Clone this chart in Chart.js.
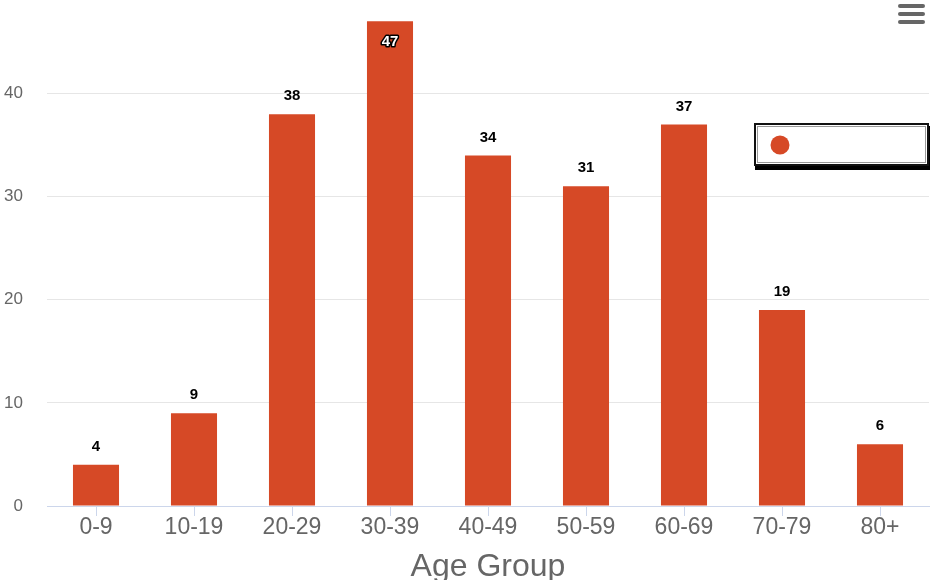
<!DOCTYPE html>
<html lang="en">
<head>
    <meta charset="UTF-8">
    <title>Age Group</title>
    <script src="https://cdn.jsdelivr.net/npm/chart.js"></script>
    <style>
        html, body { margin: 0; padding: 0; background: #fff; }
        #wrap { width: 932px; height: 580px; position: relative; }
    </style>
</head>
<body>
    <div id="wrap"><canvas id="ageChart"></canvas></div>

    <script>
        // data
        const ageGroups = ['0-9', '10-19', '20-29', '30-39', '40-49', '50-59', '60-69', '70-79', '80+'];
        const counts = [4, 9, 38, 47, 34, 31, 37, 19, 6];
        const yTicks = [0, 10, 20, 30, 40];

        const barColor = '#d64926';
        const fontFam = '"Liberation Sans", Arial, Helvetica, sans-serif';

        // value labels above bars (inside if no room)
        const valueLabels = {
            id: 'valueLabels',
            afterDatasetsDraw(chart) {
                const ctx = chart.ctx;
                const meta = chart.getDatasetMeta(0);
                ctx.save();
                ctx.font = 'bold 15px ' + fontFam;
                ctx.textAlign = 'center';
                ctx.textBaseline = 'middle';
                meta.data.forEach((bar, i) => {
                    const txt = String(counts[i]);
                    let y = bar.y - 18;
                    if (y < chart.chartArea.top + 8) {
                        y = bar.y + 20;
                        ctx.lineWidth = 3;
                        ctx.strokeStyle = '#000';
                        ctx.lineJoin = 'round';
                        ctx.strokeText(txt, bar.x, y);
                        ctx.fillStyle = '#fff';
                        ctx.fillText(txt, bar.x, y);
                    } else {
                        ctx.fillStyle = '#000';
                        ctx.fillText(txt, bar.x, y);
                    }
                });
                ctx.restore();
            }
        };

        // legend box with empty label + menu icon
        const extras = {
            id: 'extras',
            afterDraw(chart) {
                const ctx = chart.ctx;
                ctx.save();
                // shadow
                ctx.fillStyle = '#000';
                ctx.fillRect(755, 126, 175, 44);
                // box
                ctx.fillStyle = '#fff';
                ctx.fillRect(755, 124, 173, 41);
                ctx.lineWidth = 2;
                ctx.strokeStyle = '#111';
                ctx.strokeRect(755, 124, 173, 41);
                ctx.strokeStyle = '#999';
                ctx.lineWidth = 1;
                ctx.strokeRect(757.5, 126.5, 168, 36);
                ctx.fillStyle = barColor;
                ctx.beginPath();
                ctx.arc(780, 145, 9.5, 0, Math.PI * 2);
                ctx.fill();
                // menu
                ctx.strokeStyle = '#666';
                ctx.lineWidth = 4;
                ctx.lineCap = 'round';
                [6, 14, 22].forEach(y => {
                    ctx.beginPath();
                    ctx.moveTo(900, y);
                    ctx.lineTo(923, y);
                    ctx.stroke();
                });
                ctx.restore();
            }
        };

        const ctx = document.getElementById('ageChart').getContext('2d');
        const ageChart = new Chart(ctx, {
            type: 'bar',
            data: {
                labels: ageGroups,
                datasets: [{
                    label: '',
                    data: counts,
                    backgroundColor: barColor,
                    borderWidth: 0,
                    categoryPercentage: 1,
                    barPercentage: 0.47
                }]
            },
            options: {
                responsive: true,
                maintainAspectRatio: false,
                animation: false,
                layout: { padding: { top: 9, right: 3, left: 0, bottom: 0 } },
                plugins: {
                    legend: { display: false },
                    tooltip: { enabled: false }
                },
                scales: {
                    x: {
                        afterFit(axis) { axis.height = 74; },
                        grid: {
                            offset: false,
                            drawOnChartArea: false,
                            drawTicks: true,
                            tickLength: 10,
                            color: '#ccd6eb'
                        },
                        border: { color: '#ccd6eb' },
                        ticks: {
                            color: '#666',
                            font: { family: fontFam, size: 23 },
                            padding: -2,
                            maxRotation: 0
                        },
                        title: {
                            display: true,
                            text: 'Age Group',
                            color: '#666',
                            font: { family: fontFam, size: 32, lineHeight: 1 },
                            padding: { top: 8, bottom: -3 }
                        }
                    },
                    y: {
                        min: 0,
                        max: 48.2,
                        afterBuildTicks(axis) {
                            axis.ticks = yTicks.map(v => ({ value: v }));
                        },
                        afterFit(axis) {
                            axis.width = 47;
                            axis.paddingTop = 0;
                            axis.paddingBottom = 0;
                        },
                        grid: { color: '#e6e6e6', drawTicks: false },
                        border: { display: false },
                        ticks: {
                            color: '#666',
                            font: { family: fontFam, size: 17 },
                            padding: 24
                        }
                    }
                }
            },
            plugins: [valueLabels, extras]
        });
    </script>
</body>
</html>
